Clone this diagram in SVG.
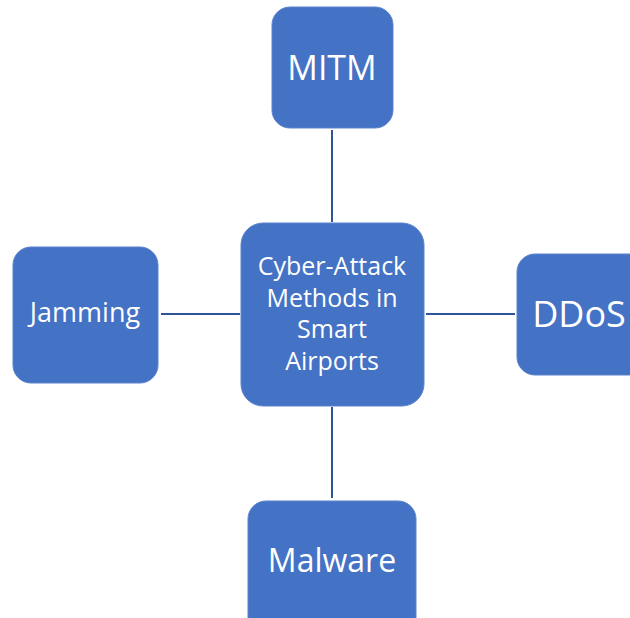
<svg xmlns="http://www.w3.org/2000/svg" width="630" height="618" viewBox="0 0 630 618">
<style>
.box{fill:#4472C4;stroke:#5A83CC;stroke-width:1}
.conn{stroke:#2F5597;stroke-width:2;fill:none}
text{font-family:"Open Sans","Noto Sans","Liberation Sans",sans-serif;fill:#FFFFFF;text-anchor:middle}
</style>
<rect width="630" height="618" fill="#FFFFFF"/>
<g id="connectors">
<line class="conn" x1="332" y1="130" x2="332" y2="222"/>
<line class="conn" x1="332" y1="407" x2="332" y2="498"/>
<line class="conn" x1="161" y1="314" x2="240" y2="314"/>
<line class="conn" x1="426" y1="314" x2="515" y2="314"/>
</g>
<g id="center">
<rect class="box" x="241" y="223" width="183" height="183" rx="22"/>
<text x="332" y="275" font-size="25">Cyber-Attack</text>
<text x="332" y="307" font-size="25">Methods in</text>
<text x="332" y="338" font-size="25">Smart</text>
<text x="332" y="370" font-size="25">Airports</text>
</g>
<g id="mitm">
<rect class="box" x="272" y="7" width="121" height="121" rx="18"/>
<text x="332" y="80" font-size="34">MITM</text>
</g>
<g id="jamming">
<rect class="box" x="13" y="247" width="145" height="136" rx="18"/>
<text x="85" y="322" font-size="27">Jamming</text>
</g>
<g id="ddos">
<rect class="box" x="517" y="254" width="130" height="121" rx="18"/>
<text x="579" y="327" font-size="36">DDoS</text>
</g>
<g id="malware">
<rect class="box" x="248" y="501" width="168" height="135" rx="18"/>
<text x="332" y="572" font-size="32">Malware</text>
</g>
</svg>
